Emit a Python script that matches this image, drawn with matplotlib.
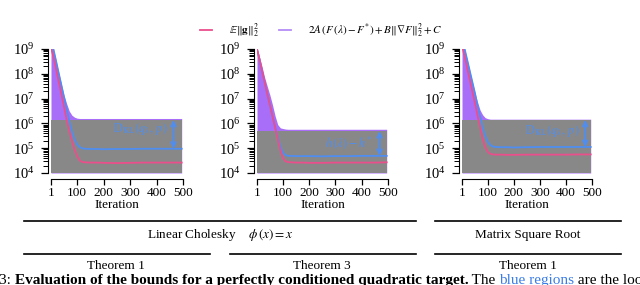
import numpy as np
import matplotlib.pyplot as plt
from matplotlib.lines import Line2D
from matplotlib.ticker import LogLocator, NullFormatter

plt.rcParams['font.family'] = ['Liberation Serif', 'DejaVu Serif']
plt.rcParams['mathtext.fontset'] = 'stix'

iters = [1, 10, 20, 30, 40, 50, 60, 70, 80, 90, 100, 110, 120, 130,
         150, 175, 200, 250, 300, 350, 400, 450, 495]

# panel 1 : Linear Cholesky, Theorem 1
pink1 = [1.12e9, 5.0e8, 1.58e8, 5.0e7, 1.58e7, 4.8e6, 1.41e6, 5.0e5, 2.0e5, 8.9e4, 4.7e4, 3.16e4,
         2.75e4, 2.7e4, 2.63e4, 2.63e4, 2.57e4, 2.51e4, 2.57e4, 2.63e4, 2.63e4, 2.63e4, 2.63e4]
blue1 = [2.8e9, 1.0e9, 3.3e8, 1.07e8, 3.55e7, 1.15e7, 3.8e6, 1.26e6, 4.8e5, 2.24e5, 1.41e5, 1.1e5,
         9.8e4, 9.5e4, 9.3e4, 9.3e4, 9.1e4, 9.3e4, 9.3e4, 9.5e4, 9.5e4, 9.5e4, 9.5e4]
purple1 = [2.8e9, 1.05e9, 3.55e8, 1.17e8, 4.0e7, 1.41e7, 6.3e6, 3.16e6, 2.14e6, 1.78e6, 1.62e6, 1.58e6,
           1.58e6, 1.58e6, 1.58e6, 1.58e6, 1.58e6, 1.58e6, 1.58e6, 1.58e6, 1.58e6, 1.58e6, 1.58e6]
const1 = 1.38e6

# panel 2 : Linear Cholesky, Theorem 3
pink2 = [1.0e9, 4.0e8, 1.35e8, 4.7e7, 1.58e7, 5.6e6, 2.0e6, 6.8e5, 2.34e5, 8.3e4, 4.0e4, 2.95e4,
         2.75e4, 2.7e4, 2.63e4, 2.63e4, 2.57e4, 2.57e4, 2.63e4, 2.63e4, 2.63e4, 2.63e4, 2.7e4]
blue2 = [1.0e9, 4.0e8, 1.35e8, 4.7e7, 1.58e7, 5.6e6, 2.0e6, 7.1e5, 2.8e5, 1.2e5, 6.6e4, 5.25e4,
         4.9e4, 4.9e4, 4.8e4, 4.8e4, 4.8e4, 4.7e4, 4.8e4, 4.8e4, 4.9e4, 4.9e4, 4.9e4]
purple2 = [1.12e9, 5.0e8, 2.0e8, 7.2e7, 3.16e7, 1.41e7, 5.6e6, 2.0e6, 8.9e5, 6.6e5, 6.2e5, 5.9e5,
           5.8e5, 5.8e5, 5.8e5, 5.8e5, 5.8e5, 5.8e5, 5.8e5, 5.8e5, 5.8e5, 5.8e5, 5.8e5]
const2 = 4.9e5

# panel 3 : Matrix Square Root, Theorem 1
pink3 = [1.41e9, 5.6e8, 1.9e8, 6.3e7, 2.1e7, 7.1e6, 2.24e6, 7.4e5, 2.5e5, 1.12e5, 7.1e4, 5.9e4,
         5.6e4, 5.5e4, 5.5e4, 5.4e4, 5.4e4, 5.5e4, 5.5e4, 5.5e4, 5.5e4, 5.6e4, 5.6e4]
blue3 = [2.5e9, 1.12e9, 4.0e8, 1.41e8, 5.0e7, 1.78e7, 5.6e6, 2.0e6, 7.1e5, 3.16e5, 1.78e5, 1.32e5,
         1.17e5, 1.12e5, 1.1e5, 1.1e5, 1.07e5, 1.1e5, 1.12e5, 1.12e5, 1.12e5, 1.12e5, 1.12e5]
purple3 = [2.5e9, 1.12e9, 4.2e8, 1.48e8, 5.2e7, 1.9e7, 7.6e6, 3.55e6, 2.24e6, 1.7e6, 1.55e6, 1.48e6,
           1.48e6, 1.48e6, 1.48e6, 1.48e6, 1.48e6, 1.48e6, 1.48e6, 1.48e6, 1.48e6, 1.48e6, 1.48e6]
const3 = 1.38e6

gap_labels = [r'$\mathrm{D}_{\mathrm{KL}}(q_{\lambda},\, p)$', r'$h\,(\lambda) - h^{*}$',
              r'$\mathrm{D}_{\mathrm{KL}}(q_{\lambda},\, p)$']

PINK = '#ea4f8c'
BLUE = '#4f8ef0'
PURPLE = '#a86ef8'
GRAY = '#888888'

W, H = 640, 285
fig = plt.figure(figsize=(6.4, 2.85), dpi=100)


def px_axes(left, right, top=49, bot=173):
    return fig.add_axes([left / W, 1 - bot / H, (right - left) / W, (bot - top) / H])


panels = [
    (px_axes(51, 183), pink1, blue1, purple1, const1, 464, 443, 5.8e5),
    (px_axes(257, 388), pink2, blue2, purple2, const2, 468, 442, 1.7e5),
    (px_axes(462, 592), pink3, blue3, purple3, const3, 474, 453, 5.0e5),
]

for i, (ax, pk, bl, pu, c, xa, xt, yt) in enumerate(panels):
    x = np.array(iters)
    ax.fill_between(x, 1e4, pu, color=PURPLE, lw=0)
    ax.fill_between(x, 1e4, c, color=GRAY, lw=0)
    ax.plot(x, bl, color=BLUE, lw=1.3)
    ax.plot(x, pk, color=PINK, lw=1.3)

    ax.annotate('', xy=(xa, bl[-1]), xytext=(xa, c),
                arrowprops=dict(arrowstyle='<->', color=BLUE, lw=1.4,
                                shrinkA=0, shrinkB=0, mutation_scale=8), zorder=5)
    ax.text(xt, yt, gap_labels[i], color=BLUE, fontsize=9, ha='right', va='center')

    ax.set_yscale('log')
    ax.set_ylim(1e4, 1e9)
    ax.set_xlim(1, 500)
    ax.set_xticks([1, 100, 200, 300, 400, 500])
    ax.yaxis.set_major_locator(LogLocator(base=10, numticks=10))
    ax.yaxis.set_minor_locator(LogLocator(base=10, subs=np.arange(2, 10), numticks=10))
    ax.yaxis.set_minor_formatter(NullFormatter())
    ax.spines[['top', 'right']].set_visible(False)
    ax.spines['left'].set_position(('outward', 2))
    ax.spines['bottom'].set_position(('outward', 4))
    ax.spines['bottom'].set_bounds(1, 500)
    ax.tick_params(axis='x', which='major', length=4, width=0.9, labelsize=9.5, pad=2)
    ax.tick_params(axis='y', which='major', length=5, width=0.9, labelsize=10.5, pad=5)
    ax.tick_params(axis='y', which='minor', length=3.5, width=0.7)
    ax.set_xlabel('Iteration', fontsize=9.5, labelpad=0)

# legend
handles = [Line2D([], [], color=PINK, lw=1.3),
           Line2D([], [], color='#b48cf6', lw=1.3)]
labels = [r'$\mathbb{E}\|\mathbf{g}\|_2^2$',
          r'$2A\,(F\,(\lambda) - F^{*}) + B\|\nabla F\|_2^2 + C$']
fig.legend(handles, labels, loc='center', bbox_to_anchor=(321 / W, 1 - 31 / H), ncol=2,
           frameon=False, fontsize=8, handlelength=1.1, handletextpad=1.5, columnspacing=1.8)


def hline(x0, x1, y):
    fig.add_artist(Line2D([x0 / W, x1 / W], [1 - y / H, 1 - y / H], color='k', lw=1.2))


def ftext(x, y, s, **kw):
    fig.text(x / W, 1 - y / H, s, fontsize=9.5, ha='center', va='center', **kw)


hline(24, 416, 221)
hline(435, 621, 221)
hline(24, 210, 254)
hline(230, 416, 254)
hline(435, 621, 254)
ftext(220, 235, r'Linear Cholesky    $\phi\,(x) = x$')
ftext(528, 235, 'Matrix Square Root')
ftext(116, 266, 'Theorem 1')
ftext(322, 266, 'Theorem 3')
ftext(528, 266, 'Theorem 1')

# caption, only the top of it is inside the picture
parts = [('3: ', 'normal', 'k'),
         ('Evaluation of the bounds for a perfectly conditioned quadratic target.', 'bold', 'k'),
         (' The ', 'normal', 'k'),
         ('blue regions', 'normal', '#3a7de8'),
         (' are the loose', 'normal', 'k')]
renderer = fig.canvas.get_renderer()
xpos = -1
for s, wgt, col in parts:
    t = fig.text(xpos / W, 1 - 284 / H, s, fontsize=11, fontweight=wgt, color=col,
                 ha='left', va='baseline')
    xpos += t.get_window_extent(renderer).width

fig.savefig('out.png', dpi=100)
